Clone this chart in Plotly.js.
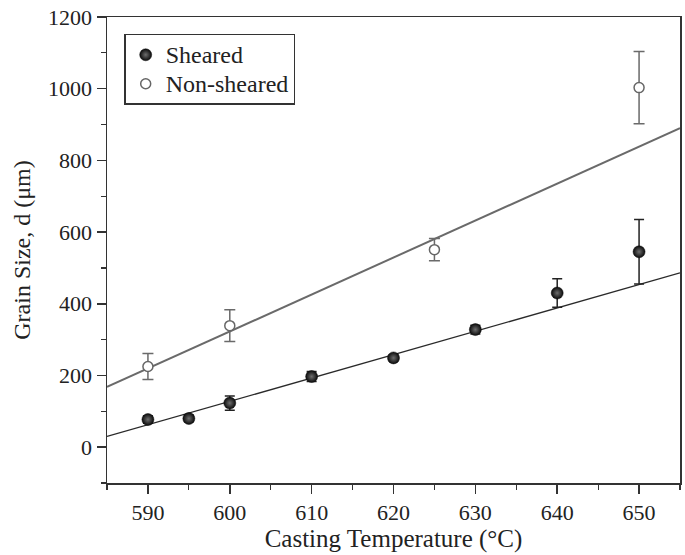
<!DOCTYPE html>
<html>
<head>
<meta charset="utf-8">
<script src="https://cdn.plot.ly/plotly-3.0.1.min.js"></script>
<style>html,body{margin:0;padding:0;background:#fff;}#chart{width:685px;height:555px;}</style>
</head>
<body>
<div id="chart"></div>
<script>
// Sheared data
const tempSheared = [590, 595, 600, 610, 620, 630, 640, 650];
const sizeSheared = [77, 80, 123, 197, 249, 328, 430, 545];
const errSheared = [10, 9, 20, 14, 9, 12, 40, 90];
// Non-sheared data
const tempNon = [590, 600, 625, 650];
const sizeNon = [225, 339, 551, 1003];
const errNon = [36, 44, 31, 101];
// Linear fit lines (endpoints)
const fitX = [585, 655];
const fitSheared = [30, 486];
const fitNon = [168, 890];
// Legend names
const seriesNames = ['Sheared', 'Non-sheared'];

const serif = 'Liberation Serif, Times New Roman, serif';
const big = s => '<span style="font-size:24px">' + s + '</span>';

const traces = [
  {x: fitX, y: fitNon, mode: 'lines', line: {color: '#6a6a6a', width: 2}, showlegend: false, hoverinfo: 'skip'},
  {x: fitX, y: fitSheared, mode: 'lines', line: {color: '#2a2a2a', width: 1.3}, showlegend: false, hoverinfo: 'skip'},
  {x: tempSheared, y: sizeSheared, mode: 'markers', name: big(seriesNames[0]),
   error_y: {type: 'data', array: errSheared, visible: true, color: '#222', thickness: 1.5, width: 5},
   marker: {symbol: 'circle', size: 12, color: '#0a0a0a', gradient: {type: 'radial', color: '#6e6e6e'}, line: {color: '#0a0a0a', width: 0.5}}},
  {x: tempNon, y: sizeNon, mode: 'markers', name: big(seriesNames[1]),
   error_y: {type: 'data', array: errNon, visible: true, color: '#6a6a6a', thickness: 1.5, width: 5.5},
   marker: {symbol: 'circle', size: 10, color: '#ffffff', line: {color: '#666', width: 1.5}}}
];

const layout = {
  width: 685, height: 555,
  margin: {l: 107, r: 5, t: 17, b: 72, pad: 0},
  paper_bgcolor: '#fff', plot_bgcolor: '#fff',
  font: {family: serif, color: '#222', size: 22},
  showlegend: true,
  legend: {x: 0.03, y: 0.964, xanchor: 'left', yanchor: 'top', bordercolor: '#333', borderwidth: 1.5,
           bgcolor: '#fff', font: {family: serif, size: 20, color: '#222'}, tracegroupgap: 0},
  xaxis: {
    range: [585, 655], dtick: 10, tick0: 590, showgrid: false, zeroline: false,
    showline: true, linecolor: '#333', linewidth: 1.5, mirror: true,
    ticks: 'outside', ticklen: 9, tickwidth: 1.5, tickcolor: '#333',
    minor: {dtick: 5, tick0: 585, ticks: 'outside', ticklen: 5, tickwidth: 1.2, tickcolor: '#333', showgrid: false},
    tickfont: {family: serif, size: 22, color: '#222'},
    title: {text: 'Casting Temperature (°C)', font: {family: serif, size: 25, color: '#222'}, standoff: 4}
  },
  yaxis: {
    range: [-100, 1200], dtick: 200, tick0: 0, showgrid: false, zeroline: false,
    showline: true, linecolor: '#333', linewidth: 1.5, mirror: true,
    ticks: 'outside', ticklen: 9, tickwidth: 1.5, tickcolor: '#333',
    minor: {dtick: 100, tick0: -100, ticks: 'outside', ticklen: 5, tickwidth: 1.2, tickcolor: '#333', showgrid: false},
    tickfont: {family: serif, size: 22, color: '#222'},
    title: {text: 'Grain Size, d (μm)', font: {family: serif, size: 24, color: '#222'}, standoff: 10}
  }
};

Plotly.newPlot('chart', traces, layout, {displayModeBar: false, staticPlot: true});
</script>
</body>
</html>
